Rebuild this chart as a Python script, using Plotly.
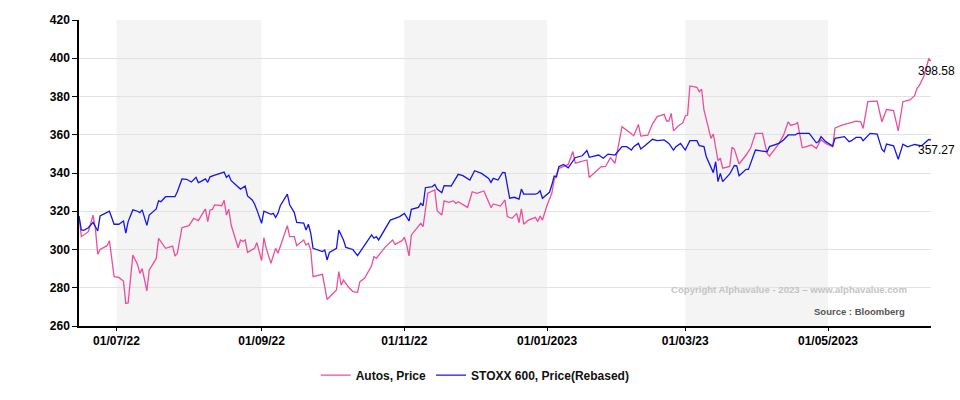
import pandas as pd
import plotly.graph_objects as go

START = "2022-06-15"

# Autos, Price  (day offset from START, value)
autos_days = [0, 1, 4, 6, 7, 8, 9, 11, 12, 13, 15, 17, 19, 20, 21, 23, 25, 26, 27, 29, 30, 33, 34, 37, 40, 41, 42, 44, 47, 49,
              51, 54, 55, 56, 57, 58, 61, 62, 63, 64, 65, 68, 69, 70, 71, 72, 75, 76, 78, 79, 80, 82, 84, 85, 87, 89, 90, 92, 93, 96,
              97, 98, 99, 100, 104, 106, 110, 111, 112, 113, 115, 117, 119, 120, 122, 125, 126, 127, 131, 134, 135, 138, 139, 140, 141, 142, 146, 147, 149, 152,
              153, 155, 156, 158, 160, 161, 162, 166, 168, 170, 173, 176, 177, 180, 182, 183, 185, 187, 188, 189, 190, 192, 195, 196, 197, 198, 200, 202, 203, 205,
              209, 211, 212, 217, 218, 223, 225, 227, 229, 232, 236, 237, 239, 240, 243, 245, 247, 250, 251, 252, 253, 254, 256, 258, 259, 260, 261, 264, 265, 266,
              267, 270, 271, 273, 274, 275, 278, 279, 280, 282, 285, 287, 289, 292, 294, 295, 299, 301, 303, 304, 306, 307, 309, 313, 314, 315, 317, 319, 322, 323,
              326, 330, 332, 334, 335, 337, 341, 343, 345, 348, 350, 352, 355, 357, 358, 359, 361, 363, 364]
autos_vals = [317.5, 306.7, 309.3, 318.0, 311.0, 297.5, 300.0, 301.5, 302.0, 304.6, 285.8, 285.4, 283.5, 271.8, 272.1, 297.1, 292.2, 287.5, 290.0, 278.3,
              289.3, 295.2, 305.8, 300.6, 301.8, 296.6, 298.0, 311.4, 312.5, 316.3, 315.1, 321.2, 314.6, 320.7, 321.0, 323.3, 322.9, 325.7, 318.0, 321.0,
              312.8, 300.9, 305.0, 304.2, 305.0, 298.5, 300.6, 303.6, 294.2, 306.2, 300.6, 292.8, 300.6, 298.0, 305.3, 312.5, 306.7, 306.7, 302.0, 305.0,
              302.4, 303.3, 299.7, 285.8, 287.0, 273.9, 278.8, 288.4, 281.4, 284.0, 280.5, 278.0, 277.6, 283.2, 284.9, 291.5, 296.3, 295.4, 301.5, 305.0,
              302.7, 304.6, 306.4, 302.4, 296.7, 307.6, 313.7, 311.9, 329.4, 331.1, 320.3, 318.0, 325.4, 324.7, 325.4, 324.1, 325.0, 322.0, 330.2, 329.4,
              330.6, 321.9, 323.8, 322.7, 325.9, 317.2, 316.3, 318.9, 314.0, 321.2, 313.2, 315.4, 316.8, 314.6, 317.5, 315.4, 323.3, 329.4, 336.3, 342.4,
              344.5, 351.2, 345.1, 346.8, 337.6, 343.2, 343.4, 348.0, 345.1, 364.2, 360.5, 359.5, 365.4, 359.3, 359.8, 365.6, 369.5, 370.7, 367.2, 367.2,
              371.2, 362.0, 364.6, 366.3, 369.8, 370.3, 385.5, 384.8, 382.5, 383.8, 373.0, 358.1, 360.4, 346.4, 347.7, 342.5, 343.4, 353.5, 352.4, 344.7,
              349.4, 353.2, 360.7, 360.7, 350.2, 348.8, 355.4, 359.8, 366.8, 365.0, 365.5, 366.3, 353.2, 354.6, 353.7, 352.8, 357.5, 355.4, 353.7, 363.6,
              365.0, 366.4, 367.1, 366.8, 363.3, 377.3, 377.6, 366.8, 373.2, 372.6, 362.0, 377.3, 378.2, 380.4, 384.3, 385.7, 390.7, 399.6, 398.58]

# STOXX 600, Price(Rebased)
stoxx_days = [0, 1, 2, 4, 6, 7, 8, 9, 10, 13, 15, 17, 19, 20, 21, 23, 25, 26, 27, 29, 30, 32, 33, 34, 35, 37, 41, 42, 44, 46,
              48, 50, 51, 52, 54, 55, 56, 58, 62, 63, 64, 65, 69, 71, 72, 74, 75, 76, 78, 79, 82, 83, 84, 85, 86, 89, 90, 92, 93, 96,
              97, 98, 99, 100, 102, 104, 105, 106, 107, 110, 111, 113, 114, 117, 119, 122, 125, 126, 127, 128, 130, 133, 135, 137, 139, 140, 141, 142, 145, 146,
              147, 148, 151, 152, 153, 155, 156, 159, 162, 164, 167, 169, 172, 175, 176, 177, 179, 181, 182, 184, 186, 188, 189, 190, 192, 195, 196, 197, 198, 201,
              202, 203, 204, 205, 207, 209, 212, 215, 217, 218, 222, 224, 226, 229, 232, 234, 236, 237, 239, 240, 242, 245, 247, 250, 252, 254, 255, 257, 259, 261,
              264, 265, 267, 268, 271, 272, 273, 274, 275, 278, 280, 281, 282, 285, 286, 289, 294, 295, 299, 301, 303, 306, 307, 310, 312, 315, 316, 317, 319, 322,
              323, 327, 329, 330, 332, 334, 335, 338, 341, 343, 344, 345, 348, 350, 352, 354, 357, 360, 363, 364]
stoxx_vals = [317.5, 310.2, 310.0, 311.4, 314.2, 312.0, 309.7, 317.5, 318.2, 320.0, 313.2, 313.2, 314.9, 308.5, 314.6, 320.7, 320.0, 319.3, 320.7, 312.6,
              318.0, 320.1, 321.2, 325.4, 325.0, 327.6, 327.6, 330.2, 336.9, 336.7, 335.3, 337.7, 335.0, 335.5, 336.9, 335.1, 338.0, 338.9, 340.5, 337.7,
              338.9, 336.0, 331.6, 333.2, 328.0, 325.9, 323.8, 320.7, 313.7, 320.0, 318.4, 318.9, 316.8, 318.9, 322.9, 329.0, 323.4, 319.3, 314.2, 313.8,
              310.2, 313.2, 308.5, 300.6, 299.7, 298.9, 299.7, 294.5, 298.5, 300.6, 310.2, 305.0, 301.1, 300.0, 296.8, 302.4, 307.6, 305.9, 306.7, 305.0,
              309.0, 315.4, 316.3, 317.2, 318.9, 317.2, 314.9, 321.0, 322.0, 324.1, 322.9, 332.3, 332.9, 334.0, 331.6, 329.7, 333.4, 333.2, 339.3, 338.6,
              336.3, 341.2, 339.8, 337.2, 335.1, 337.2, 336.3, 340.3, 340.2, 326.8, 327.3, 326.3, 331.6, 329.0, 329.0, 329.0, 329.4, 330.7, 326.8, 329.9,
              333.7, 338.4, 338.0, 343.3, 344.5, 342.7, 348.0, 349.0, 351.7, 348.2, 349.4, 347.7, 349.9, 349.4, 353.8, 353.8, 352.0, 353.8, 355.5, 352.6,
              354.5, 357.6, 356.9, 357.3, 355.5, 352.0, 353.8, 355.5, 352.0, 356.9, 356.9, 354.3, 353.8, 348.5, 340.2, 345.9, 335.5, 339.8, 335.5, 339.5,
              343.9, 343.7, 338.6, 341.9, 341.9, 352.0, 351.1, 353.8, 355.5, 357.3, 359.9, 359.9, 360.7, 360.7, 360.7, 355.8, 356.4, 359.0, 356.4, 354.1,
              358.1, 359.0, 356.4, 356.9, 358.6, 358.6, 356.9, 360.7, 360.4, 352.4, 351.1, 355.1, 354.2, 347.2, 355.1, 353.7, 354.9, 354.2, 357.5, 357.27]

tick_dates = ["2022-07-01", "2022-09-01", "2022-11-01", "2023-01-01", "2023-03-01", "2023-05-01"]
tick_labels = ["01/07/22", "01/09/22", "01/11/22", "01/01/2023", "01/03/23", "01/05/2023"]
band_starts = ["2022-07-01", "2022-11-01", "2023-03-01"]
band_ends = ["2022-09-01", "2023-01-01", "2023-05-01"]

start = pd.Timestamp(START)
autos_x = start + pd.to_timedelta(autos_days, unit="D")
stoxx_x = start + pd.to_timedelta(stoxx_days, unit="D")

PINK = "#ee4d9b"
BLUE = "#1414f0"
FONT = "Arial, Liberation Sans, sans-serif"

fig = go.Figure()
fig.add_trace(go.Scatter(x=autos_x, y=autos_vals, mode="lines", name="Autos, Price",
                         line=dict(color=PINK, width=1.3)))
fig.add_trace(go.Scatter(x=stoxx_x, y=stoxx_vals, mode="lines", name="STOXX 600, Price(Rebased)",
                         line=dict(color=BLUE, width=1.3)))

for s, e in zip(band_starts, band_ends):
    fig.add_shape(type="rect", xref="x", yref="paper", x0=s, x1=e, y0=0, y1=1,
                  fillcolor="#f4f4f4", line=dict(width=0), layer="below")

fig.add_annotation(x=autos_x[-1], y=autos_vals[-1], text=f"{autos_vals[-1]:.2f}", showarrow=False,
                   xanchor="center", yanchor="middle", xshift=5, yshift=-10,
                   font=dict(family=FONT, size=12, color="#000000"))
fig.add_annotation(x=stoxx_x[-1], y=stoxx_vals[-1], text=f"{stoxx_vals[-1]:.2f}", showarrow=False,
                   xanchor="center", yanchor="middle", xshift=5, yshift=-10,
                   font=dict(family=FONT, size=12, color="#000000"))

fig.add_annotation(xref="paper", yref="paper", x=0.833, y=0.118,
                   text="Copyright Alphavalue - 2023 \u2013 www.alphavalue.com", showarrow=False,
                   xanchor="center", yanchor="middle",
                   font=dict(family=FONT, size=9.6, color="#c4c4c4", weight="bold"))
fig.add_annotation(xref="paper", yref="paper", x=0.9715, y=0.049,
                   text="Source : Bloomberg", showarrow=False,
                   xanchor="right", yanchor="middle",
                   font=dict(family=FONT, size=9.5, color="#555555", weight="bold"))

fig.update_layout(
    width=960, height=400,
    margin=dict(l=79, r=29, t=20, b=74),
    paper_bgcolor="white", plot_bgcolor="white",
    showlegend=True,
    legend=dict(orientation="h", xref="container", x=0.495, xanchor="center",
                yref="container", y=0.062, yanchor="middle",
                font=dict(family=FONT, size=12, color="#111111", weight="bold"),
                itemwidth=30),
    font=dict(family=FONT),
)
fig.update_xaxes(range=["2022-06-15", "2023-06-14"], tickvals=tick_dates, ticktext=tick_labels,
                 showgrid=False, showline=True, linecolor="#000000", linewidth=1.5,
                 ticks="outside", ticklen=3, tickcolor="#000000",
                 tickfont=dict(family=FONT, size=12, color="#000000", weight="bold"),
                 zeroline=False)
fig.update_yaxes(range=[260, 420], dtick=20, tick0=260,
                 showgrid=True, gridcolor="#e2e2e2", gridwidth=1,
                 showline=True, linecolor="#000000", linewidth=1.5,
                 ticks="outside", ticklen=5, tickcolor="#000000",
                 tickfont=dict(family=FONT, size=12, color="#000000", weight="bold"),
                 zeroline=False)

fig.write_html("out.html")
